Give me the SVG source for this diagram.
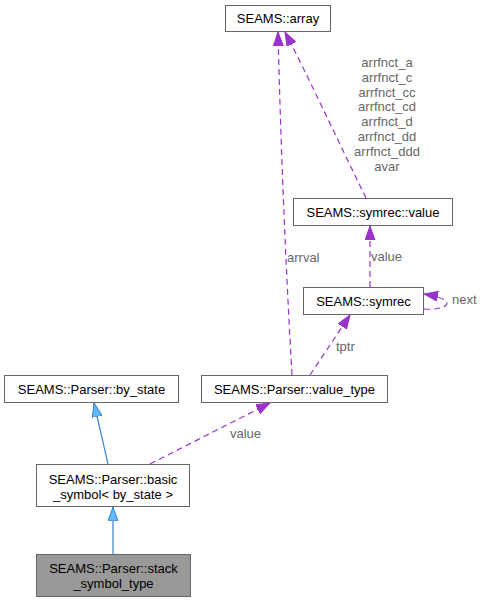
<svg xmlns="http://www.w3.org/2000/svg" width="482" height="601" viewBox="0 0 482 601">
<defs>
<style>
.box{fill:#ffffff;stroke:#666666;stroke-width:1}
.cur{fill:#999999;stroke:#666666;stroke-width:1}
.nt{font-family:"Liberation Sans",Arial,sans-serif;font-size:13px;fill:#000000;text-anchor:middle}
.lb{font-family:"Liberation Sans",Arial,sans-serif;font-size:13px;fill:#666666}
.lbc{font-family:"Liberation Sans",Arial,sans-serif;font-size:13px;fill:#666666;text-anchor:middle}
.use{fill:none;stroke:#9a32cd;stroke-width:1.2;stroke-dasharray:6,4}
.inh{fill:none;stroke:#3a84c8;stroke-width:1.2}
</style>
<marker id="ap" markerUnits="userSpaceOnUse" markerWidth="16" markerHeight="12" refX="14" refY="5" orient="auto">
<path d="M0,0 L14,5 L0,10 z" fill="#9a32cd" stroke="#9a32cd" stroke-width="1"/>
</marker>
<marker id="ab" markerUnits="userSpaceOnUse" markerWidth="16" markerHeight="12" refX="14" refY="5" orient="auto">
<path d="M0,0 L14,5 L0,10 z" fill="#63b8ff" stroke="#3a84c8" stroke-width="1"/>
</marker>
</defs>
<g id="connectors">
<path class="inh" d="M113,554 L113,507" marker-end="url(#ab)"/>
<path class="inh" d="M108,464 L94,403" marker-end="url(#ab)"/>
<path class="use" d="M150,464 L270,403" marker-end="url(#ap)"/>
<path class="use" d="M310,375 L350,315" marker-end="url(#ap)"/>
<path class="use" d="M292,375 Q282,200 278,32" marker-end="url(#ap)"/>
<path class="use" d="M366,198 C340,145 305,70 285,32" marker-end="url(#ap)"/>
<path class="use" d="M370,287 L370,226" marker-end="url(#ap)"/>
<path class="use" d="M424,309 C446,311 462,300 424,294" marker-end="url(#ap)"/>
<text class="lbc" x="387" y="67">arrfnct_a</text>
<text class="lbc" x="387" y="82">arrfnct_c</text>
<text class="lbc" x="387" y="97">arrfnct_cc</text>
<text class="lbc" x="387" y="111">arrfnct_cd</text>
<text class="lbc" x="387" y="126">arrfnct_d</text>
<text class="lbc" x="387" y="141">arrfnct_dd</text>
<text class="lbc" x="387" y="156">arrfnct_ddd</text>
<text class="lbc" x="387" y="171">avar</text>
<text class="lb" x="287" y="262">arrval</text>
<text class="lb" x="371" y="261">value</text>
<text class="lb" x="452" y="304">next</text>
<text class="lb" x="336" y="351">tptr</text>
<text class="lb" x="230" y="438">value</text>
</g>
<g id="node-array">
<rect class="box" x="225.5" y="5.5" width="105" height="26"/>
<text class="nt" x="278" y="23">SEAMS::array</text>
</g>
<g id="node-symrec-value">
<rect class="box" x="293.5" y="198.5" width="159" height="27"/>
<text class="nt" x="373" y="216.5">SEAMS::symrec::value</text>
</g>
<g id="node-symrec">
<rect class="box" x="303.5" y="287.5" width="120" height="27"/>
<text class="nt" x="363.5" y="305.5">SEAMS::symrec</text>
</g>
<g id="node-by-state">
<rect class="box" x="4.5" y="375.5" width="174" height="27"/>
<text class="nt" x="91.5" y="393.5">SEAMS::Parser::by_state</text>
</g>
<g id="node-value-type">
<rect class="box" x="201.5" y="375.5" width="186" height="27"/>
<text class="nt" x="294.5" y="393.5">SEAMS::Parser::value_type</text>
</g>
<g id="node-basic-symbol">
<rect class="box" x="36.5" y="464.5" width="153" height="42"/>
<text class="nt" x="113" y="483.5">SEAMS::Parser::basic</text>
<text class="nt" x="113" y="498.5">_symbol&lt; by_state &gt;</text>
</g>
<g id="node-stack-symbol-type">
<rect class="cur" x="36.5" y="554.5" width="154" height="42"/>
<text class="nt" x="113.5" y="573">SEAMS::Parser::stack</text>
<text class="nt" x="113.5" y="588">_symbol_type</text>
</g>
</svg>
